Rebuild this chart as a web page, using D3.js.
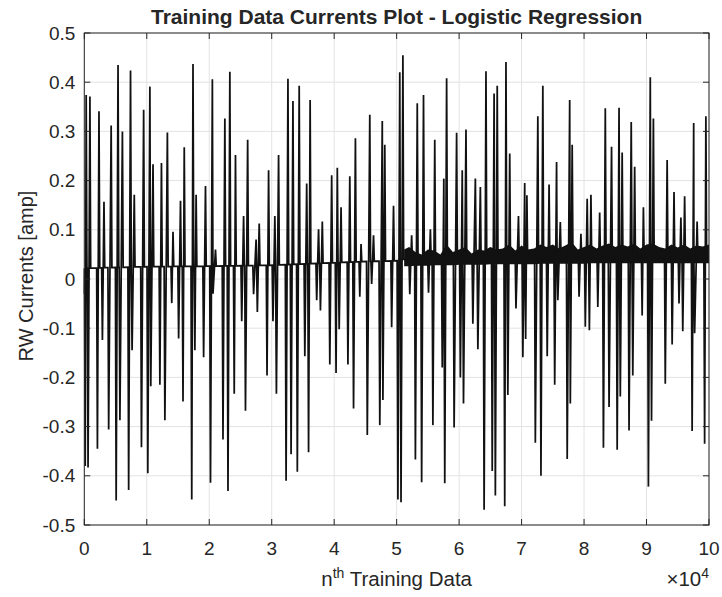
<!DOCTYPE html>
<html>
<head>
<meta charset="utf-8">
<script src="https://cdn.jsdelivr.net/npm/d3@7"></script>
<style>
  body { margin: 0; background: #fff; }
  svg text { font-family: "Liberation Sans", Arial, Helvetica, sans-serif; fill: #262626; }
</style>
</head>
<body>
<svg id="chart" width="722" height="597"></svg>
<script>
// Axis ticks (x in units of 10^4 samples)
const xTicks = [0, 1, 2, 3, 4, 5, 6, 7, 8, 9, 10];
const yTicks = [-0.5, -0.4, -0.3, -0.2, -0.1, 0, 0.1, 0.2, 0.3, 0.4, 0.5];
const yTickLabels = ["-0.5", "-0.4", "-0.3", "-0.2", "-0.1", "0", "0.1", "0.2", "0.3", "0.4", "0.5"];

// Current pulses: each one dips to a trough, then swings up to a peak
const troughX = [0.015, 0.06, 0.21, 0.29, 0.39, 0.51, 0.57, 0.71, 0.765, 0.915, 1.016, 1.064, 1.21, 1.29, 1.40, 1.51, 1.58, 1.72, 1.77, 1.91, 2.02, 2.06, 2.22, 2.30, 2.40,
  2.52, 2.58, 2.71, 2.77, 2.925, 3.02, 3.075, 3.23, 3.31, 3.41, 3.53, 3.59, 3.72, 3.78, 3.93, 4.03, 4.08, 4.22, 4.31, 4.41, 4.53, 4.60, 4.73, 4.78,
  4.92, 5.02, 5.07, 5.21, 5.30, 5.40, 5.51, 5.58, 5.73, 5.77, 5.92, 6.02, 6.07, 6.22, 6.30, 6.40, 6.53, 6.58, 6.73, 6.78, 6.91, 7.02, 7.065, 7.22, 7.31,
  7.41, 7.53, 7.58, 7.73, 7.78, 7.92, 8.02, 8.085, 8.22, 8.31, 8.40, 8.53, 8.58, 8.72, 8.78, 8.93, 9.03, 9.08, 9.30, 9.41, 9.52, 9.58, 9.73, 9.77, 9.93];
const troughV = [-0.38, -0.383, -0.345, -0.124, -0.306, -0.45, -0.287, -0.429, -0.145, -0.342, -0.395, -0.218, -0.215, -0.287, -0.049, -0.121, -0.249, -0.448, -0.145, -0.159, -0.414, -0.03, -0.326, -0.431, -0.233,
  -0.086, -0.268, -0.031, -0.067, -0.196, -0.086, -0.233, -0.41, -0.356, -0.392, -0.157, -0.352, -0.043, -0.064, -0.174, -0.191, -0.102, -0.174, -0.263, -0.036, -0.317, -0.01, -0.297, -0.246,
  -0.098, -0.448, -0.454, -0.031, -0.367, -0.413, -0.028, -0.297, -0.18, -0.415, -0.302, -0.2, -0.253, -0.091, -0.143, -0.469, -0.39, -0.44, -0.462, -0.236, -0.06, -0.159, -0.122, -0.333, -0.40,
  -0.157, -0.215, -0.043, -0.366, -0.253, -0.036, -0.097, -0.104, -0.057, -0.343, -0.26, -0.347, -0.239, -0.308, -0.196, -0.074, -0.422, -0.288, -0.213, -0.133, -0.05, -0.106, -0.309, -0.11, -0.335];
const peakX = [0.03, 0.09, 0.235, 0.315, 0.43, 0.54, 0.61, 0.74, 0.80, 0.95, 1.05, 1.10, 1.235, 1.33, 1.42, 1.54, 1.60, 1.74, 1.79, 1.94, 2.05, 2.10, 2.25, 2.33, 2.42,
  2.55, 2.615, 2.75, 2.80, 2.95, 3.05, 3.11, 3.26, 3.34, 3.44, 3.56, 3.615, 3.75, 3.81, 3.96, 4.05, 4.11, 4.25, 4.34, 4.43, 4.57, 4.63, 4.77, 4.81,
  4.95, 5.05, 5.10, 5.24, 5.33, 5.43, 5.54, 5.61, 5.755, 5.80, 5.96, 6.05, 6.11, 6.26, 6.34, 6.43, 6.56, 6.61, 6.75, 6.81, 6.95, 7.05, 7.085, 7.26, 7.34,
  7.44, 7.56, 7.62, 7.77, 7.81, 7.95, 8.05, 8.11, 8.25, 8.34, 8.44, 8.56, 8.61, 8.755, 8.81, 8.95, 9.06, 9.11, 9.33, 9.44, 9.55, 9.61, 9.755, 9.81, 9.95];
const peakV = [0.374, 0.371, 0.341, 0.157, 0.312, 0.435, 0.30, 0.424, 0.171, 0.344, 0.391, 0.233, 0.236, 0.298, 0.096, 0.159, 0.268, 0.437, 0.171, 0.189, 0.406, 0.06, 0.326, 0.421, 0.252,
  0.128, 0.283, 0.08, 0.113, 0.221, 0.128, 0.252, 0.407, 0.362, 0.393, 0.194, 0.364, 0.101, 0.117, 0.211, 0.226, 0.146, 0.209, 0.286, 0.071, 0.334, 0.089, 0.321, 0.273,
  0.149, 0.42, 0.455, 0.089, 0.357, 0.374, 0.101, 0.283, 0.204, 0.408, 0.297, 0.221, 0.304, 0.204, 0.187, 0.422, 0.377, 0.393, 0.441, 0.255, 0.128, 0.195, 0.17, 0.331, 0.393,
  0.192, 0.238, 0.116, 0.364, 0.273, 0.092, 0.163, 0.171, 0.135, 0.347, 0.269, 0.348, 0.257, 0.319, 0.228, 0.146, 0.41, 0.326, 0.242, 0.177, 0.125, 0.168, 0.317, 0.117, 0.331];

// Resting current level between pulses
const baseX = [0, 1, 2, 3, 4, 4.6, 5.0, 5.12, 7.5, 10];
const baseV = [0.022, 0.025, 0.026, 0.028, 0.033, 0.036, 0.037, 0.04, 0.042, 0.045];
const startV = -0.03;

// Envelope of the dense ripple after 5.1e4 samples
const bandX = [5.12, 5.2, 5.3, 5.4, 5.5, 5.6, 5.7, 5.8, 5.9, 6.0, 6.1, 6.2, 6.3, 6.4, 6.5, 6.6, 6.7, 6.8, 6.9, 7.0, 7.1, 7.2, 7.3, 7.4, 7.5,
  7.6, 7.7, 7.8, 7.9, 8.0, 8.1, 8.2, 8.3, 8.4, 8.5, 8.6, 8.7, 8.8, 8.9, 9.0, 9.1, 9.2, 9.3, 9.4, 9.5, 9.6, 9.7, 9.8, 9.9, 10.0];
const bandHigh = [0.06, 0.065, 0.055, 0.05, 0.06, 0.058, 0.05, 0.07, 0.055, 0.06, 0.065, 0.052, 0.06, 0.058, 0.065, 0.06, 0.062, 0.07, 0.058, 0.068, 0.06, 0.062, 0.07, 0.065, 0.07,
  0.062, 0.068, 0.075, 0.06, 0.065, 0.07, 0.062, 0.068, 0.072, 0.065, 0.07, 0.066, 0.072, 0.062, 0.07, 0.072, 0.065, 0.062, 0.07, 0.064, 0.07, 0.062, 0.068, 0.066, 0.07];
const bandLow = [0.026, 0.026, 0.027, 0.027, 0.027, 0.028, 0.028, 0.028, 0.028, 0.029, 0.029, 0.029, 0.029, 0.029, 0.03, 0.03, 0.03, 0.03, 0.03, 0.03, 0.03, 0.03, 0.031, 0.031, 0.031,
  0.031, 0.031, 0.031, 0.031, 0.031, 0.032, 0.032, 0.032, 0.032, 0.032, 0.032, 0.032, 0.032, 0.032, 0.032, 0.032, 0.032, 0.032, 0.032, 0.032, 0.032, 0.032, 0.032, 0.032, 0.032];

const svg = d3.select("#chart");
const margin = { left: 84.3, right: 13, top: 33, bottom: 72 };
const W = 722, H = 597;
const iw = W - margin.left - margin.right;
const ih = H - margin.top - margin.bottom;

const x = d3.scaleLinear().domain([0, 10]).range([margin.left, margin.left + iw]);
const y = d3.scaleLinear().domain([-0.5, 0.5]).range([margin.top + ih, margin.top]);
const base = d3.scaleLinear().domain(baseX).range(baseV).clamp(true);

const axisColor = "#262626";
const gridColor = "#e3e3e3";
const tickLen = 6;

// grid
const grid = svg.append("g");
grid.selectAll("line.gx").data(xTicks).join("line")
  .attr("x1", d => x(d)).attr("x2", d => x(d))
  .attr("y1", y(-0.5)).attr("y2", y(0.5))
  .attr("stroke", gridColor).attr("stroke-width", 1);
grid.selectAll("line.gy").data(yTicks).join("line")
  .attr("y1", d => y(d)).attr("y2", d => y(d))
  .attr("x1", x(0)).attr("x2", x(10))
  .attr("stroke", gridColor).attr("stroke-width", 1);

// ripple band
const plot = svg.append("g");
const bandData = bandX.map((bx, i) => ({ x: bx, lo: bandLow[i], hi: bandHigh[i] }));
plot.append("path")
  .datum(bandData)
  .attr("fill", "#111")
  .attr("d", d3.area().x(d => x(d.x)).y0(d => y(d.lo)).y1(d => y(d.hi)));

// current trace
const pts = [[0, startV]];
const leg = 0.012;
let lastX = 0;
for (let i = 0; i < troughX.length; i++) {
  const a = troughX[i] - leg;
  if (a > lastX + 0.002) pts.push([a, base(a)]);
  pts.push([troughX[i], troughV[i]]);
  pts.push([peakX[i], peakV[i]]);
  const b = peakX[i] + leg;
  const next = i + 1 < troughX.length ? troughX[i + 1] - leg : 10;
  if (b < next) { pts.push([b, base(b)]); lastX = b; } else { lastX = peakX[i]; }
}
pts.push([10, base(10)]);

plot.append("path")
  .datum(pts)
  .attr("fill", "none")
  .attr("stroke", "#111")
  .attr("stroke-width", 1.75)
  .attr("stroke-linejoin", "miter")
  .attr("d", d3.line().x(d => x(d[0])).y(d => y(d[1])));

// axes box with inward ticks on all sides
const ax = svg.append("g").attr("stroke", axisColor).attr("fill", "none");
ax.append("rect")
  .attr("x", x(0)).attr("y", y(0.5))
  .attr("width", x(10) - x(0)).attr("height", y(-0.5) - y(0.5))
  .attr("stroke-width", 1);
ax.selectAll("line.tb").data(xTicks).join("line")
  .attr("x1", d => x(d)).attr("x2", d => x(d))
  .attr("y1", y(-0.5)).attr("y2", y(-0.5) - tickLen);
ax.selectAll("line.tt").data(xTicks).join("line")
  .attr("x1", d => x(d)).attr("x2", d => x(d))
  .attr("y1", y(0.5)).attr("y2", y(0.5) + tickLen);
ax.selectAll("line.tl").data(yTicks).join("line")
  .attr("y1", d => y(d)).attr("y2", d => y(d))
  .attr("x1", x(0)).attr("x2", x(0) + tickLen);
ax.selectAll("line.tr").data(yTicks).join("line")
  .attr("y1", d => y(d)).attr("y2", d => y(d))
  .attr("x1", x(10)).attr("x2", x(10) - tickLen);

// tick labels
svg.append("g").selectAll("text").data(xTicks).join("text")
  .attr("x", d => x(d)).attr("y", y(-0.5) + 30)
  .attr("text-anchor", "middle").attr("font-size", 19)
  .text(d => d);
svg.append("g").selectAll("text").data(yTicks).join("text")
  .attr("x", x(0) - 9).attr("y", d => y(d) + 6.5)
  .attr("text-anchor", "end").attr("font-size", 19)
  .text((d, i) => yTickLabels[i]);

// title
svg.append("text")
  .attr("x", (x(0) + x(10)) / 2).attr("y", 24)
  .attr("text-anchor", "middle").attr("font-size", 21).attr("font-weight", "bold")
  .text("Training Data Currents Plot - Logistic Regression");

// x label with superscript
const xl = svg.append("text")
  .attr("x", (x(0) + x(10)) / 2).attr("y", 586)
  .attr("text-anchor", "middle").attr("font-size", 20.5);
xl.append("tspan").text("n");
xl.append("tspan").attr("dy", -8).attr("font-size", 14).text("th");
xl.append("tspan").attr("dy", 8).text(" Training Data");

// exponent marker
const ex = svg.append("text")
  .attr("x", x(10)).attr("y", 586)
  .attr("text-anchor", "end").attr("font-size", 20.5);
ex.append("tspan").text("\u00d710");
ex.append("tspan").attr("dy", -8).attr("font-size", 14).text("4");

// y label
svg.append("text")
  .attr("transform", `translate(33,${(y(0.5) + y(-0.5)) / 2 - 3}) rotate(-90)`)
  .attr("text-anchor", "middle").attr("font-size", 20)
  .text("RW Currents [amp]");
</script>
</body>
</html>
